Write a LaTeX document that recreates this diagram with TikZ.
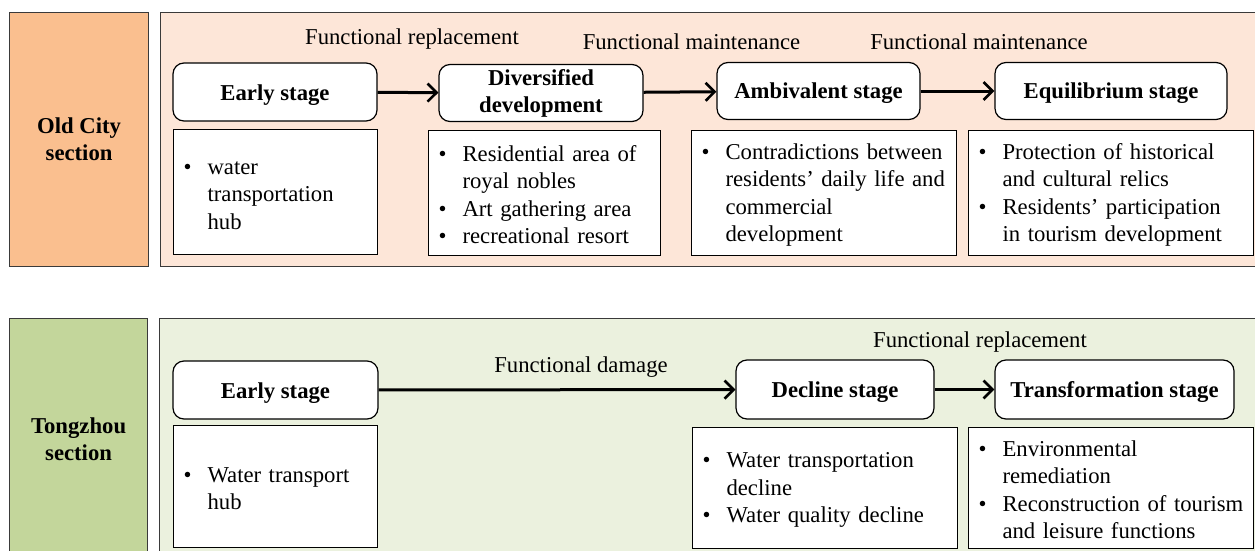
\documentclass[tikz,border=0pt]{standalone}
\usepackage{fontspec}
\setmainfont{Liberation Serif}
\usetikzlibrary{arrows.meta}

\definecolor{oldtagfill}{HTML}{FABF8F}
\definecolor{oldfieldfill}{HTML}{FDE6D8}
\definecolor{tongtagfill}{HTML}{C3D69B}
\definecolor{tongfieldfill}{HTML}{EBF1DE}
\definecolor{rim}{HTML}{3A3A3A}

% one bulleted entry with a hanging indent
\newcommand{\bitem}[1]{\par\noindent\hangindent=24pt\hangafter=1\makebox[24pt][l]{\textbullet}#1\par}
% extra space below a bullet list, lifting it inside its box
\newcommand{\notetail}{\par\vspace{8pt}}

\begin{document}
\begin{tikzpicture}[x=1pt,y=-1pt,
  every node/.style={font=\fontsize{22.7}{27.5}\selectfont},
  tag/.style={draw=rim, line width=1.2pt, anchor=north west, align=center,
    inner sep=0pt, font=\fontsize{22.7}{27}\selectfont\bfseries},
  field/.style={draw=rim, line width=1.2pt, anchor=north west, inner sep=0pt},
  stagebox/.style={draw=black, fill=white, rounded corners=11pt, line width=1.2pt,
    align=center, inner sep=0pt, font=\fontsize{22.7}{27}\selectfont\bfseries},
  oneline/.style={text height=21pt, text depth=5pt},
  notebox/.style={draw=black, fill=white, line width=1.1pt, anchor=north west,
    inner xsep=10pt, inner ysep=0pt, execute at end node=\notetail},
  flow/.style={line width=3pt, -{Straight Barb[length=9pt,width=18pt,line width=2.6pt]}},
  phase/.style={anchor=base, inner sep=0pt}]

\clip (0,0) rectangle (1255,551);
\fill[white] (0,0) rectangle (1255,551);

% ---------------- Old City section ----------------
\node[tag, fill=oldtagfill, minimum width=139pt, minimum height=254pt] (oldtag) at (9,12) {Old City\\section};
\node[field, fill=oldfieldfill, minimum width=1100pt, minimum height=254pt] (oldfield) at (160,12) {};

\node[stagebox, oneline, minimum width=204pt, minimum height=58pt] (o1) at (275,92) {Early stage};
\node[stagebox, minimum width=204pt, minimum height=57pt] (o2) at (541,93) {Diversified\\development};
\node[stagebox, oneline, minimum width=203pt, minimum height=57pt] (o3) at (818.5,91) {Ambivalent stage};
\node[stagebox, oneline, minimum width=232pt, minimum height=57pt] (o4) at (1111,91) {Equilibrium stage};

\draw[flow] (o1) -- (o2);
\draw[flow] (o2) -- (o3);
\draw[flow] (o3) -- (o4);

\node[phase] (p1) at (412,45) {Functional replacement};
\node[phase] (p2) at (691.5,49) {Functional maintenance};
\node[phase] (p3) at (979,50) {Functional maintenance};

\node[notebox, minimum width=204pt, minimum height=125pt, text width=184pt] (n1) at (173,129)
  {\bitem{water\newline transportation\newline hub}};
\node[notebox, minimum width=232pt, minimum height=125pt, text width=212pt] (n2) at (428,130)
  {\bitem{Residential area of\newline royal nobles}\bitem{Art gathering area}\bitem{recreational resort}};
\node[notebox, minimum width=265pt, minimum height=125pt, text width=245pt] (n3) at (691,130)
  {\bitem{Contradictions between\newline residents' daily life and\newline commercial\newline development}};
\node[notebox, minimum width=285pt, minimum height=125pt, text width=265pt] (n4) at (968,130)
  {\bitem{Protection of historical\newline and cultural relics}\bitem{Residents' participation\newline in tourism development}};

% ---------------- Tongzhou section ----------------
\node[tag, fill=tongtagfill, minimum width=138pt, minimum height=241pt] (tongtag) at (9,318) {Tongzhou\\section};
\node[field, fill=tongfieldfill, minimum width=1100pt, minimum height=241pt] (tongfield) at (159,318) {};

\node[stagebox, oneline, minimum width=205pt, minimum height=58pt] (t1) at (275.5,390) {Early stage};
\node[stagebox, oneline, minimum width=198pt, minimum height=59pt] (t2) at (835,389.5) {Decline stage};
\node[stagebox, oneline, minimum width=239pt, minimum height=59pt] (t3) at (1114.5,389.5) {Transformation stage};

\draw[flow] (t1) -- (t2);
\draw[flow] (t2) -- (t3);

\node[phase] (p4) at (581,372) {Functional damage};
\node[phase] (p5) at (980,347) {Functional replacement};

\node[notebox, minimum width=204pt, minimum height=122pt, text width=184pt] (m1) at (173,425)
  {\bitem{Water transport\newline hub}};
\node[notebox, minimum width=265pt, minimum height=121pt, text width=245pt] (m2) at (692,427)
  {\bitem{Water transportation\newline decline}\bitem{Water quality decline}};
\node[notebox, minimum width=285pt, minimum height=121pt, text width=265pt] (m3) at (968,427)
  {\bitem{Environmental\newline remediation}\bitem{Reconstruction of tourism\newline and leisure functions}};
\end{tikzpicture}
\end{document}
